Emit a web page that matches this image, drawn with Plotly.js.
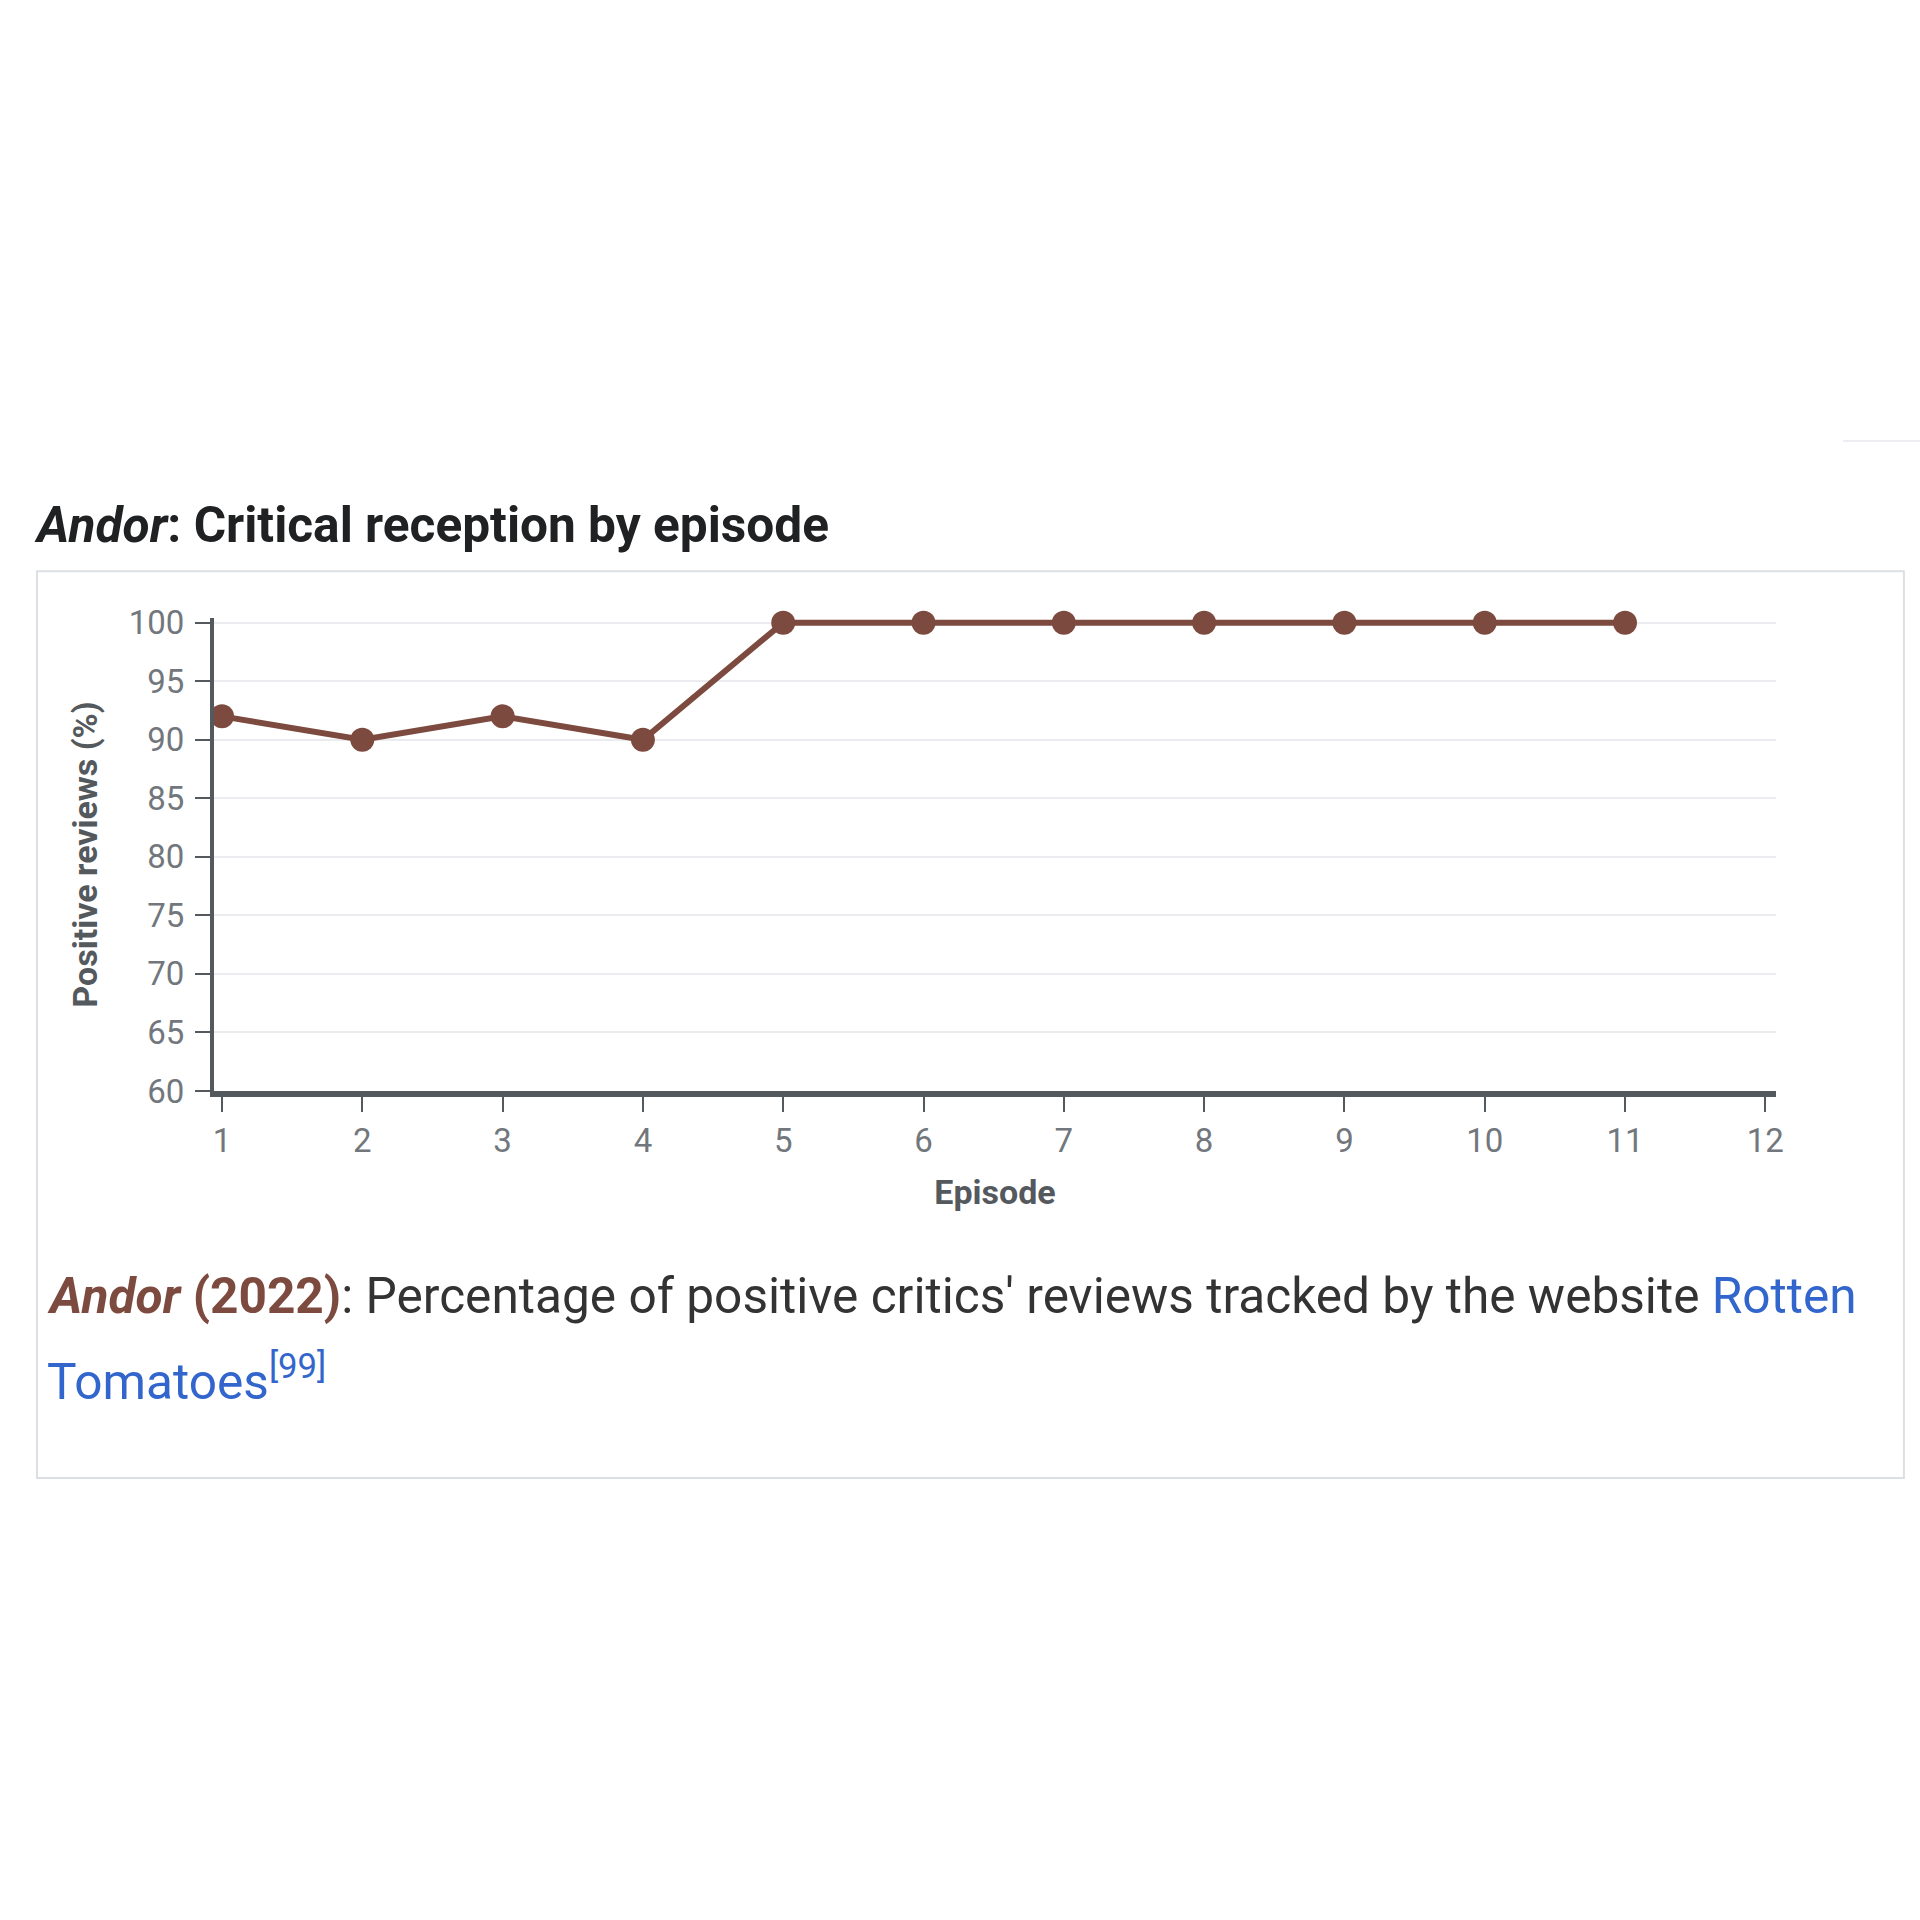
<!DOCTYPE html>
<html>
<head>
<meta charset="utf-8">
<script src="https://cdn.plot.ly/plotly-3.0.1.min.js"></script>
<style>
  body { margin: 0; background: #fff; }
  #chart { width: 1920px; height: 1920px; }
</style>
</head>
<body>
<div id="chart"></div>
<script>
// Andor (2022) - Rotten Tomatoes positive reviews per episode
var episodes = [1, 2, 3, 4, 5, 6, 7, 8, 9, 10, 11];
var positive = [92, 90, 92, 90, 100, 100, 100, 100, 100, 100, 100];
var xTicks = [1, 2, 3, 4, 5, 6, 7, 8, 9, 10, 11, 12];
var yTicks = [60, 65, 70, 75, 80, 85, 90, 95, 100];

var brown = '#7d4a3f';
var axisDark = '#54595d';
var tickGray = '#72777d';

var trace = {
  x: episodes,
  y: positive,
  type: 'scatter',
  mode: 'lines+markers',
  showlegend: false,
  line: { color: brown, width: 6 },
  marker: { color: brown, size: 24 },
  cliponaxis: false
};

// the plot area runs a hair above 100 so the flat line at 100 is not clipped
var layout = {
  width: 1920,
  height: 1920,
  paper_bgcolor: '#ffffff',
  plot_bgcolor: '#ffffff',
  font: { family: 'Roboto, sans-serif', color: tickGray },
  margin: { l: 214, r: 144, t: 618, b: 829, pad: 0 },
  showlegend: false,
  xaxis: {
    range: [0.943, 12.076],
    tickvals: xTicks,
    ticks: 'outside',
    ticklen: 15,
    tickwidth: 2,
    tickcolor: axisDark,
    showgrid: false,
    zeroline: false,
    showline: true,
    linecolor: axisDark,
    linewidth: 6,
    tickfont: { size: 33, color: tickGray },
    title: {
      text: '<b>Episode</b>',
      font: { size: 34, color: axisDark },
      standoff: 24
    }
  },
  yaxis: {
    range: [60, 100.4],
    tickvals: yTicks,
    ticks: 'outside',
    ticklen: 15,
    tickwidth: 2,
    tickcolor: axisDark,
    ticklabelstandoff: 4,
    showgrid: true,
    gridcolor: '#eaecf0',
    gridwidth: 2,
    zeroline: false,
    showline: true,
    linecolor: axisDark,
    linewidth: 4,
    tickfont: { size: 33, color: tickGray },
    title: {
      text: '<b>Positive reviews (%)</b>',
      font: { size: 34, color: axisDark },
      standoff: 22
    }
  },
  shapes: [
    {
      type: 'rect', xref: 'paper', yref: 'paper',
      x0: -0.1133, x1: 1.0819, y0: -0.818, y1: 1.099,
      line: { color: '#dcdfe3', width: 2 },
      fillcolor: 'rgba(0,0,0,0)',
      layer: 'below'
    },
    {
      type: 'line', xref: 'paper', yref: 'paper',
      x0: 1.0429, x1: 1.0922, y0: 1.374, y1: 1.374,
      line: { color: '#eceef1', width: 2 }
    }
  ],
  annotations: [
    {
      xref: 'paper', yref: 'paper',
      x: -0.1165, y: 1.197, xanchor: 'left', yanchor: 'middle',
      showarrow: false,
      text: '<b><i>Andor</i>: Critical reception by episode</b>',
      font: { size: 49.6, color: '#202122' }
    },
    {
      xref: 'paper', yref: 'paper',
      x: -0.1082, y: -0.433, xanchor: 'left', yanchor: 'middle',
      showarrow: false,
      text: '<span style="color:' + brown + '"><b><i>Andor</i> (2022)</b></span>: ' +
            'Percentage of positive critics\' reviews tracked by the website ' +
            '<span style="color:#3366cc">Rotten</span>',
      font: { size: 49.6, color: '#333333' }
    },
    {
      xref: 'paper', yref: 'paper',
      x: -0.1082, y: -0.607, xanchor: 'left', yanchor: 'middle',
      showarrow: false,
      text: '<span style="color:#3366cc">Tomatoes<sup>[99]</sup></span>',
      font: { size: 49.6, color: '#3366cc' }
    }
  ]
};

Plotly.newPlot('chart', [trace], layout, { staticPlot: true });
</script>
</body>
</html>
